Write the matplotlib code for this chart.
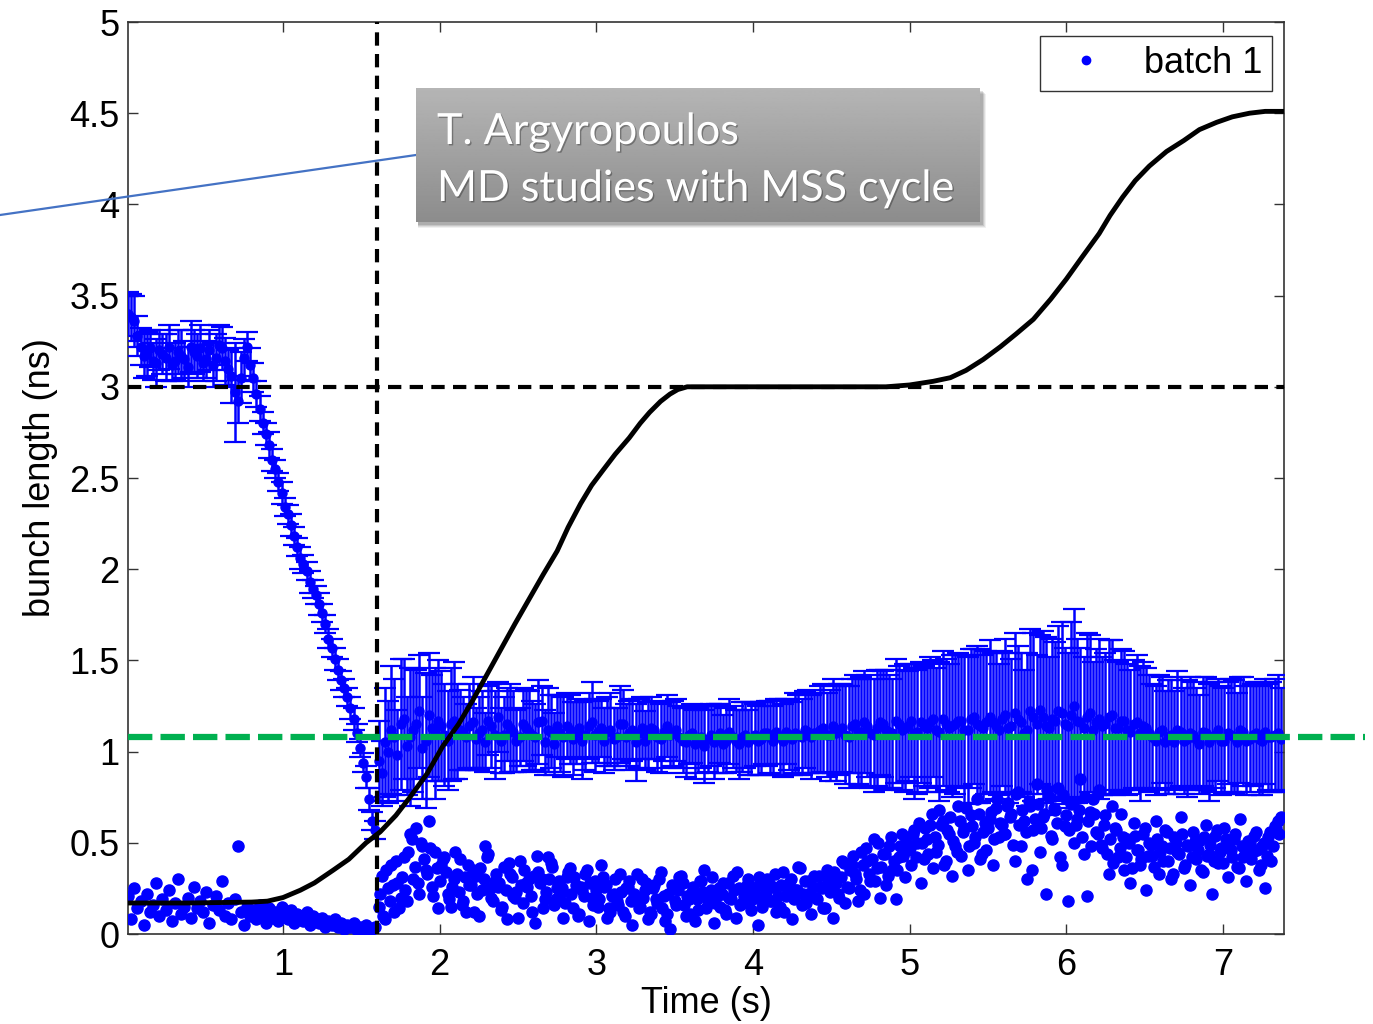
import numpy as np
import matplotlib.pyplot as plt
from matplotlib.patches import Rectangle
from matplotlib.lines import Line2D
import matplotlib.patheffects as pe

plt.rcParams['font.family'] = ['Liberation Sans', 'DejaVu Sans']

W, H = 1373, 1024

# upper series (with error bars), bunch set A, every 0.04 s from 0.01 s
t_up = np.round(0.01 + 0.04 * np.arange(185), 2)
up = [3.40, 3.36, 3.22, 3.18, 3.14, 3.20, 3.16, 3.12, 3.19, 3.15,
      3.22, 3.17, 3.13, 3.20, 3.16, 3.21, 3.10, 2.97, 3.05, 3.22,
      3.05, 2.88, 2.74, 2.60, 2.48, 2.34, 2.24, 2.12, 2.03, 1.93,
      1.86, 1.76, 1.62, 1.51, 1.39, 1.30, 1.18, 1.02, 0.86, 0.62,
      # after 1.6 s
      0.95, 1.05, 1.12, 0.98, 1.18, 1.08, 1.15, 1.02, 1.20, 1.10, 1.14, 1.06, 1.17,
      1.12, 1.08, 1.16, 1.10, 1.05, 1.14, 1.19, 1.09, 1.13, 1.06,
      1.15, 1.11, 1.08, 1.17, 1.12, 1.04, 1.10, 1.14, 1.07, 1.13,
      1.09, 1.16, 1.11, 1.06, 1.12, 1.08, 1.15, 1.10, 1.05, 1.13,
      1.09, 1.12, 1.07, 1.14, 1.10,
      1.08, 1.05, 1.10, 1.06, 1.03, 1.09, 1.07, 1.04, 1.11, 1.06,
      1.08, 1.05, 1.09, 1.07, 1.10, 1.06, 1.08, 1.11, 1.07, 1.09,
      1.12, 1.08, 1.10, 1.13, 1.09,
      1.10, 1.13, 1.08, 1.15, 1.11, 1.14, 1.09, 1.16, 1.12, 1.10,
      1.15, 1.13, 1.17, 1.11, 1.14, 1.16, 1.12, 1.18, 1.13, 1.15,
      1.17, 1.12, 1.19, 1.14, 1.16,
      1.16, 1.12, 1.20, 1.14, 1.18, 1.10, 1.22, 1.15, 1.19, 1.13,
      1.17, 1.21, 1.14, 1.25, 1.16, 1.19, 1.12, 1.18, 1.15, 1.20,
      1.13, 1.17, 1.11, 1.16, 1.14,
      1.10, 1.06, 1.12, 1.08, 1.05, 1.11, 1.07, 1.09, 1.04, 1.10,
      1.08, 1.12, 1.06, 1.09, 1.05, 1.11, 1.07, 1.10, 1.06, 1.08,
      1.09, 1.07]
up_err = [0.12, 0.14, 0.10, 0.12, 0.10, 0.11, 0.13, 0.09, 0.12, 0.10,
          0.14, 0.12, 0.10, 0.11, 0.13, 0.12, 0.10, 0.27, 0.14, 0.08,
          0.08, 0.07, 0.06, 0.06, 0.05, 0.05, 0.06, 0.05, 0.05, 0.06,
          0.05, 0.05, 0.05, 0.06, 0.05, 0.05, 0.06, 0.05, 0.06, 0.05,
          0.22, 0.30, 0.35, 0.25, 0.33, 0.38, 0.30, 0.28, 0.34, 0.36, 0.30, 0.27, 0.32,
          0.22, 0.18, 0.25, 0.20, 0.16, 0.23, 0.19, 0.21, 0.24, 0.17,
          0.20, 0.22, 0.18, 0.19, 0.23, 0.17, 0.21, 0.18, 0.20, 0.16,
          0.19, 0.22, 0.17, 0.18, 0.20, 0.16, 0.19, 0.18, 0.21, 0.17,
          0.18, 0.16, 0.19, 0.17, 0.18,
          0.17, 0.19, 0.16, 0.18, 0.20, 0.17, 0.19, 0.16, 0.18, 0.17,
          0.19, 0.18, 0.17, 0.20, 0.18, 0.19, 0.21, 0.18, 0.20, 0.22,
          0.21, 0.23, 0.22, 0.24, 0.25,
          0.26, 0.24, 0.28, 0.27, 0.30, 0.28, 0.31, 0.29, 0.33, 0.30,
          0.32, 0.35, 0.31, 0.34, 0.33, 0.36, 0.34, 0.37, 0.35, 0.38,
          0.36, 0.40, 0.37, 0.42, 0.39,
          0.38, 0.36, 0.42, 0.37, 0.40, 0.35, 0.45, 0.38, 0.47, 0.39,
          0.43, 0.50, 0.40, 0.53, 0.41, 0.46, 0.37, 0.44, 0.39, 0.41,
          0.36, 0.38, 0.34, 0.37, 0.35,
          0.32, 0.30, 0.29, 0.31, 0.28, 0.30, 0.32, 0.29, 0.27, 0.31,
          0.30, 0.28, 0.29, 0.31, 0.27, 0.30, 0.29, 0.28, 0.30, 0.29,
          0.31, 0.28]

# upper series, bunch set B, every 0.04 s from 0.03 s
t_up2 = np.round(0.03 + 0.04 * np.arange(184), 2)
up2 = [3.38, 3.28, 3.17, 3.21, 3.13, 3.18, 3.22, 3.14, 3.17, 3.11,
       3.19, 3.21, 3.15, 3.12, 3.23, 3.14, 3.06, 2.92, 3.16, 3.12,
       2.96, 2.80, 2.68, 2.55, 2.42, 2.30, 2.18, 2.06, 1.99, 1.89,
       1.81, 1.70, 1.57, 1.45, 1.35, 1.24, 1.10, 0.94, 0.74, 0.57,
       # after 1.6 s
       0.88, 1.00, 1.08, 1.15, 1.03, 1.12, 1.22, 1.06, 1.13, 1.17, 1.09, 1.15, 1.11,
       1.10, 1.14, 1.07, 1.12, 1.17, 1.09, 1.06, 1.15, 1.11, 1.08,
       1.13, 1.09, 1.16, 1.05, 1.11, 1.14, 1.08, 1.12, 1.10, 1.06,
       1.14, 1.09, 1.13, 1.11, 1.07, 1.15, 1.08, 1.12, 1.10, 1.06,
       1.13, 1.08, 1.11, 1.09, 1.12,
       1.06, 1.09, 1.04, 1.08, 1.07, 1.05, 1.10, 1.06, 1.08, 1.04,
       1.09, 1.07, 1.06, 1.10, 1.08, 1.11, 1.06, 1.09, 1.10, 1.08,
       1.11, 1.10, 1.12, 1.09, 1.14,
       1.12, 1.09, 1.14, 1.11, 1.16, 1.10, 1.13, 1.15, 1.11, 1.17,
       1.12, 1.14, 1.10, 1.16, 1.13, 1.18, 1.11, 1.15, 1.14, 1.17,
       1.12, 1.18, 1.15, 1.13, 1.19,
       1.14, 1.18, 1.13, 1.21, 1.16, 1.12, 1.19, 1.23, 1.14, 1.18,
       1.22, 1.15, 1.20, 1.17, 1.13, 1.21, 1.16, 1.14, 1.19, 1.13,
       1.17, 1.12, 1.15, 1.10, 1.13,
       1.08, 1.11, 1.05, 1.09, 1.12, 1.06, 1.10, 1.07, 1.11, 1.05,
       1.09, 1.06, 1.10, 1.08, 1.12, 1.06, 1.09, 1.07, 1.11, 1.08, 1.10]
up2_err = [0.13, 0.11, 0.12, 0.10, 0.13, 0.11, 0.12, 0.10, 0.14, 0.11,
           0.12, 0.13, 0.10, 0.12, 0.11, 0.13, 0.15, 0.12, 0.10, 0.09,
           0.07, 0.06, 0.07, 0.05, 0.06, 0.05, 0.05, 0.06, 0.05, 0.05,
           0.06, 0.05, 0.05, 0.06, 0.05, 0.06, 0.05, 0.05, 0.06, 0.05,
           0.18, 0.28, 0.32, 0.36, 0.27, 0.34, 0.31, 0.37, 0.29, 0.33, 0.28, 0.31, 0.26,
           0.20, 0.23, 0.17, 0.21, 0.19, 0.24, 0.18, 0.20, 0.22, 0.16,
           0.21, 0.19, 0.23, 0.18, 0.20, 0.17, 0.22, 0.19, 0.17, 0.21,
           0.18, 0.20, 0.16, 0.19, 0.17, 0.21, 0.18, 0.17, 0.19, 0.16,
           0.17, 0.19, 0.16, 0.18, 0.17,
           0.18, 0.16, 0.19, 0.17, 0.18, 0.20, 0.16, 0.18, 0.17, 0.19,
           0.18, 0.20, 0.19, 0.17, 0.20, 0.18, 0.20, 0.19, 0.22, 0.21,
           0.23, 0.22, 0.24, 0.23, 0.26,
           0.25, 0.27, 0.26, 0.29, 0.28, 0.30, 0.32, 0.29, 0.31, 0.34,
           0.33, 0.30, 0.36, 0.33, 0.35, 0.32, 0.38, 0.36, 0.39, 0.37,
           0.41, 0.38, 0.43, 0.40, 0.42,
           0.40, 0.37, 0.41, 0.44, 0.38, 0.42, 0.46, 0.41, 0.49, 0.44,
           0.47, 0.42, 0.51, 0.45, 0.39, 0.43, 0.40, 0.38, 0.42, 0.37,
           0.39, 0.36, 0.35, 0.37, 0.33,
           0.29, 0.31, 0.28, 0.30, 0.32, 0.29, 0.31, 0.28, 0.30, 0.32,
           0.29, 0.30, 0.28, 0.31, 0.29, 0.30, 0.28, 0.31, 0.29, 0.30, 0.32]

# lower series (points only), every 0.02 s from 0.01 s
t_low = np.round(0.01 + 0.02 * np.arange(369), 2)
low = [0.21, 0.08, 0.25, 0.14, 0.18, 0.05, 0.22, 0.12, 0.16, 0.28,
       0.10, 0.19, 0.13, 0.24, 0.07, 0.17, 0.30, 0.11, 0.15, 0.20,
       0.09, 0.26, 0.14, 0.18, 0.12, 0.23, 0.06, 0.16, 0.21, 0.13,
       0.29, 0.10, 0.17, 0.08, 0.19, 0.48, 0.12, 0.05, 0.15, 0.10,
       0.13, 0.08, 0.16, 0.11, 0.06, 0.14, 0.09, 0.12, 0.07, 0.15,
       0.10, 0.08, 0.13, 0.06, 0.11, 0.09, 0.07, 0.12, 0.05, 0.10,
       0.08, 0.06, 0.09, 0.04, 0.07, 0.05, 0.08, 0.04, 0.06, 0.03,
       0.05, 0.04, 0.06, 0.02, 0.04, 0.03, 0.05, 0.02, 0.03, 0.04,
       0.15, 0.32, 0.08, 0.25, 0.38, 0.12, 0.28, 0.20, 0.42, 0.18,
       0.55, 0.30, 0.58, 0.22, 0.48, 0.35, 0.62, 0.26, 0.45, 0.14,
       0.38, 0.42, 0.22, 0.15, 0.30, 0.33, 0.41, 0.18, 0.12, 0.27,
       0.35, 0.32, 0.10, 0.24, 0.48, 0.44, 0.20, 0.29, 0.26, 0.13,
       0.37, 0.08, 0.33, 0.21, 0.23, 0.40, 0.17, 0.28, 0.30, 0.12,
       0.06, 0.34, 0.30, 0.19, 0.42, 0.39, 0.16, 0.25, 0.22, 0.09,
       0.31, 0.36, 0.14, 0.27, 0.11, 0.24, 0.33, 0.07, 0.20, 0.29,
       0.15, 0.38, 0.26, 0.09, 0.12, 0.22, 0.18, 0.33, 0.12, 0.25,
       0.29, 0.05, 0.20, 0.14, 0.30, 0.24, 0.08, 0.11, 0.27, 0.17,
       0.34, 0.21, 0.11, 0.03, 0.26, 0.16, 0.31, 0.28, 0.10, 0.19,
       0.23, 0.07, 0.13, 0.29, 0.35, 0.18, 0.24, 0.06, 0.21, 0.15,
       0.28, 0.11, 0.20, 0.32, 0.09, 0.25, 0.17, 0.22, 0.30, 0.13,
       0.22, 0.05, 0.27, 0.19, 0.30, 0.18, 0.26, 0.12, 0.15, 0.34,
       0.21, 0.28, 0.08, 0.24, 0.37, 0.16, 0.29, 0.22, 0.11, 0.32,
       0.19, 0.26, 0.14, 0.35, 0.23,
       0.09, 0.28, 0.20, 0.40, 0.17, 0.25, 0.38, 0.33, 0.18, 0.45,
       0.22, 0.40, 0.29, 0.52, 0.36, 0.20, 0.44, 0.27, 0.48, 0.35,
       0.19, 0.42, 0.55, 0.31, 0.46,
       0.38, 0.57, 0.50, 0.28, 0.41, 0.52, 0.60, 0.36, 0.45, 0.68,
       0.62, 0.40, 0.55, 0.32, 0.48, 0.70, 0.43, 0.58, 0.35, 0.65,
       0.50, 0.74, 0.41, 0.56, 0.46,
       0.63, 0.38, 0.69, 0.53, 0.60, 0.55, 0.72, 0.66, 0.40, 0.78,
       0.48, 0.62, 0.30, 0.70, 0.57, 0.82, 0.45, 0.64, 0.22, 0.75,
       0.52, 0.68, 0.80, 0.38, 0.59, 0.18, 0.71, 0.50, 0.63, 0.85,
       0.44, 0.21, 0.67, 0.74, 0.56,
       0.79, 0.47, 0.65, 0.33, 0.70, 0.58, 0.42, 0.66, 0.35, 0.52,
       0.28, 0.61, 0.46, 0.38, 0.55, 0.24, 0.50, 0.43, 0.62, 0.33,
       0.48, 0.57, 0.40, 0.30, 0.53, 0.45, 0.64, 0.36, 0.49, 0.27,
       0.56, 0.41, 0.51, 0.34, 0.60, 0.44, 0.22, 0.54, 0.39, 0.47,
       0.58, 0.31, 0.46, 0.52, 0.37, 0.63, 0.42, 0.29, 0.50, 0.45,
       0.56, 0.35, 0.48, 0.25, 0.53, 0.40, 0.59, 0.62, 0.64]

# lower series, second bunch set after 1.6 s, every 0.02 s from 1.62 s
t_low2 = np.round(1.62 + 0.02 * np.arange(288), 2)
low2 = [0.22, 0.10, 0.35, 0.18, 0.27, 0.40, 0.14, 0.31, 0.24, 0.45,
        0.52, 0.37, 0.28, 0.50, 0.41, 0.33, 0.47, 0.21, 0.36,
        0.29, 0.41, 0.34, 0.19, 0.26, 0.45, 0.23, 0.16, 0.31, 0.38,
        0.27, 0.12, 0.22, 0.36, 0.30, 0.42, 0.25, 0.18, 0.33, 0.28,
        0.15, 0.24, 0.39, 0.31, 0.20, 0.09, 0.27, 0.35, 0.26, 0.21,
        0.32, 0.43, 0.28, 0.14, 0.23, 0.30, 0.37, 0.19, 0.29, 0.25,
        0.17, 0.34, 0.22, 0.31, 0.10, 0.26, 0.21, 0.35, 0.28, 0.16,
        0.24, 0.19, 0.31, 0.27, 0.14, 0.21, 0.30, 0.16, 0.23, 0.10,
        0.26, 0.18, 0.22, 0.33, 0.15, 0.20, 0.28, 0.12, 0.25, 0.19,
        0.30, 0.14, 0.07, 0.22, 0.27, 0.18, 0.24, 0.32, 0.16, 0.21,
        0.11, 0.26, 0.19, 0.29, 0.23, 0.14, 0.20, 0.31, 0.17, 0.25,
        0.22, 0.13, 0.28, 0.19, 0.24, 0.34, 0.16, 0.21, 0.27, 0.18,
        0.26, 0.20, 0.31, 0.15, 0.23, 0.28, 0.18, 0.33, 0.21, 0.27,
        0.12, 0.25, 0.30, 0.19, 0.24, 0.36, 0.22, 0.17, 0.29, 0.26,
        0.20, 0.32, 0.25, 0.14, 0.30,
        0.27, 0.34, 0.22, 0.31, 0.39, 0.26, 0.35, 0.43, 0.30, 0.24,
        0.38, 0.47, 0.33, 0.41, 0.29, 0.50, 0.37, 0.44, 0.32, 0.53,
        0.40, 0.35, 0.48, 0.43, 0.51,
        0.47, 0.55, 0.42, 0.61, 0.50, 0.58, 0.44, 0.66, 0.53, 0.49,
        0.60, 0.38, 0.57, 0.64, 0.51, 0.45, 0.62, 0.56, 0.69, 0.48,
        0.59, 0.53, 0.66, 0.44, 0.61,
        0.58, 0.67, 0.52, 0.74, 0.61, 0.55, 0.70, 0.64, 0.49, 0.77,
        0.60, 0.68, 0.56, 0.73, 0.35, 0.63, 0.71, 0.58, 0.66, 0.79,
        0.54, 0.69, 0.61, 0.42, 0.76, 0.65, 0.57, 0.72, 0.60, 0.68,
        0.53, 0.75, 0.62, 0.48, 0.66,
        0.55, 0.49, 0.60, 0.44, 0.52, 0.39, 0.57, 0.47, 0.53, 0.42,
        0.50, 0.36, 0.54, 0.46, 0.41, 0.58, 0.43, 0.49, 0.37, 0.52,
        0.45, 0.40, 0.56, 0.47, 0.33, 0.50, 0.44, 0.55, 0.38, 0.48,
        0.42, 0.51, 0.46, 0.35, 0.53, 0.43, 0.49, 0.40, 0.57, 0.45,
        0.39, 0.52, 0.47, 0.42, 0.55, 0.36, 0.48, 0.44, 0.51, 0.41,
        0.54, 0.46, 0.38, 0.50, 0.43, 0.56, 0.48, 0.58, 0.55]

# magnetic cycle (scaled), black curve
t_cyc = [0.01, 0.4, 0.8, 0.9, 1.0, 1.11, 1.2, 1.32, 1.42, 1.53, 1.62, 1.72, 1.81,
         1.92, 2.02, 2.12, 2.21, 2.30, 2.39, 2.48, 2.58, 2.66, 2.75, 2.82, 2.90,
         2.97, 3.04, 3.12, 3.21, 3.28, 3.34, 3.41, 3.47, 3.52, 3.58, 4.0, 4.5,
         4.85, 5.0, 5.15, 5.26, 5.36, 5.47, 5.58, 5.68, 5.79, 5.90, 6.0, 6.10,
         6.21, 6.28, 6.36, 6.44, 6.53, 6.64, 6.75, 6.85, 6.96, 7.06, 7.17, 7.27, 7.38]
cyc = [0.17, 0.17, 0.175, 0.18, 0.20, 0.24, 0.28, 0.35, 0.41, 0.50, 0.56, 0.65, 0.75,
       0.88, 1.03, 1.15, 1.28, 1.42, 1.56, 1.70, 1.85, 1.97, 2.10, 2.23, 2.36,
       2.46, 2.54, 2.63, 2.72, 2.80, 2.86, 2.92, 2.96, 2.985, 3.00, 3.00, 3.00,
       3.00, 3.01, 3.03, 3.05, 3.09, 3.15, 3.22, 3.29, 3.37, 3.48, 3.59, 3.71,
       3.84, 3.94, 4.04, 4.13, 4.21, 4.29, 4.35, 4.41, 4.45, 4.48, 4.50, 4.51, 4.51]

t_inj = 1.6       # vertical marker
y_ref = 3.0       # horizontal marker
y_green = 1.08    # target bunch length

fig = plt.figure(figsize=(W / 100, H / 100), dpi=100)
ax = fig.add_axes([128 / W, 1 - 934 / H, (1284 - 128) / W, (934 - 22) / H])

for tt, yy, ee in [(t_up, up, up_err), (t_up2, up2, up2_err)]:
    ax.errorbar(tt, yy, yerr=ee, fmt='o', ms=6.5, color='blue', ecolor='blue',
                elinewidth=1.8, capsize=8, capthick=1.6, zorder=3)
ax.plot(t_low, low, 'o', ms=8, color='blue', zorder=3)
ax.plot(t_low2, low2, 'o', ms=8, color='blue', zorder=3)
ax.plot(t_cyc, cyc, '-', color='black', lw=3.5, zorder=4)
ax.axhline(y_ref, color='black', lw=3.0, ls=(0, (3.2, 2.0)), zorder=4)
ax.axvline(t_inj, color='black', lw=3.0, ls=(0, (3.2, 2.0)), zorder=4)
ax.plot([0.01, 7.905], [y_green, y_green], color='#00B050', lw=4.5,
        ls=(0, (3.9, 1.3)), clip_on=False, zorder=5)

ax.set_xlim(0.01, 7.39)
ax.set_ylim(0, 5)
ax.set_xticks([1, 2, 3, 4, 5, 6, 7])
ax.set_yticks([0, 0.5, 1, 1.5, 2, 2.5, 3, 3.5, 4, 4.5, 5])
ax.set_yticklabels(['0', '0.5', '1', '1.5', '2', '2.5', '3', '3.5', '4', '4.5', '5'])
ax.tick_params(direction='in', top=True, right=True, length=7, width=1,
               color='#333333', labelsize=26)
ax.tick_params(axis='x', pad=10)
ax.tick_params(axis='y', pad=6)
for s in ax.spines.values():
    s.set_color('#333333')
    s.set_linewidth(1.2)
ax.set_xlabel('Time (s)', fontsize=26, labelpad=2)
ax.set_ylabel('bunch length (ns)', fontsize=26, labelpad=8)

leg = ax.legend([Line2D([], [], ls='', marker='o', ms=6, color='blue')], ['batch 1'],
                loc='upper right', bbox_to_anchor=(1272 / W, 1 - 36 / H),
                bbox_transform=fig.transFigure, borderaxespad=0, fontsize=26,
                fancybox=False, edgecolor='black', handlelength=2.0,
                handletextpad=0.6, borderpad=0.28)
leg.get_frame().set_linewidth(1.0)

# annotation box with gradient and shadow
bx0, by0, bx1, by1 = 416, 88, 980, 222
for k, a in enumerate([0.06, 0.08, 0.10, 0.12]):
    d = 6 - k
    fig.patches.append(Rectangle(((bx0 + 2) / W, 1 - (by1 + d) / H),
                                 (bx1 - bx0 + d - 2) / W, (by1 - by0) / H,
                                 transform=fig.transFigure, color='black',
                                 alpha=a, lw=0, zorder=8))
bax = fig.add_axes([bx0 / W, 1 - by1 / H, (bx1 - bx0) / W, (by1 - by0) / H], zorder=10)
grad = np.linspace(0.71, 0.55, 100).reshape(-1, 1)
bax.imshow(grad, cmap='gray', vmin=0, vmax=1, aspect='auto', extent=[0, 1, 0, 1])
bax.set_axis_off()
shadow = [pe.withSimplePatchShadow(offset=(1, -1), shadow_rgbFace='black', alpha=0.3)]
fig.text(437 / W, 1 - 144 / H, 'T. Argyropoulos', fontsize=31, color='white',
         family=['Lato', 'DejaVu Sans'], va='baseline', zorder=11, path_effects=shadow)
fig.text(437 / W, 1 - 201 / H, 'MD studies with MSS cycle', fontsize=31, color='white',
         family=['Lato', 'DejaVu Sans'], va='baseline', zorder=11, path_effects=shadow)

# pointer line from the left edge to the box
fig.add_artist(Line2D([0, bx0 / W], [1 - 215 / H, 1 - 155 / H],
                      color='#4472C4', lw=1.6, zorder=9))

fig.savefig('out.png', dpi=100)
